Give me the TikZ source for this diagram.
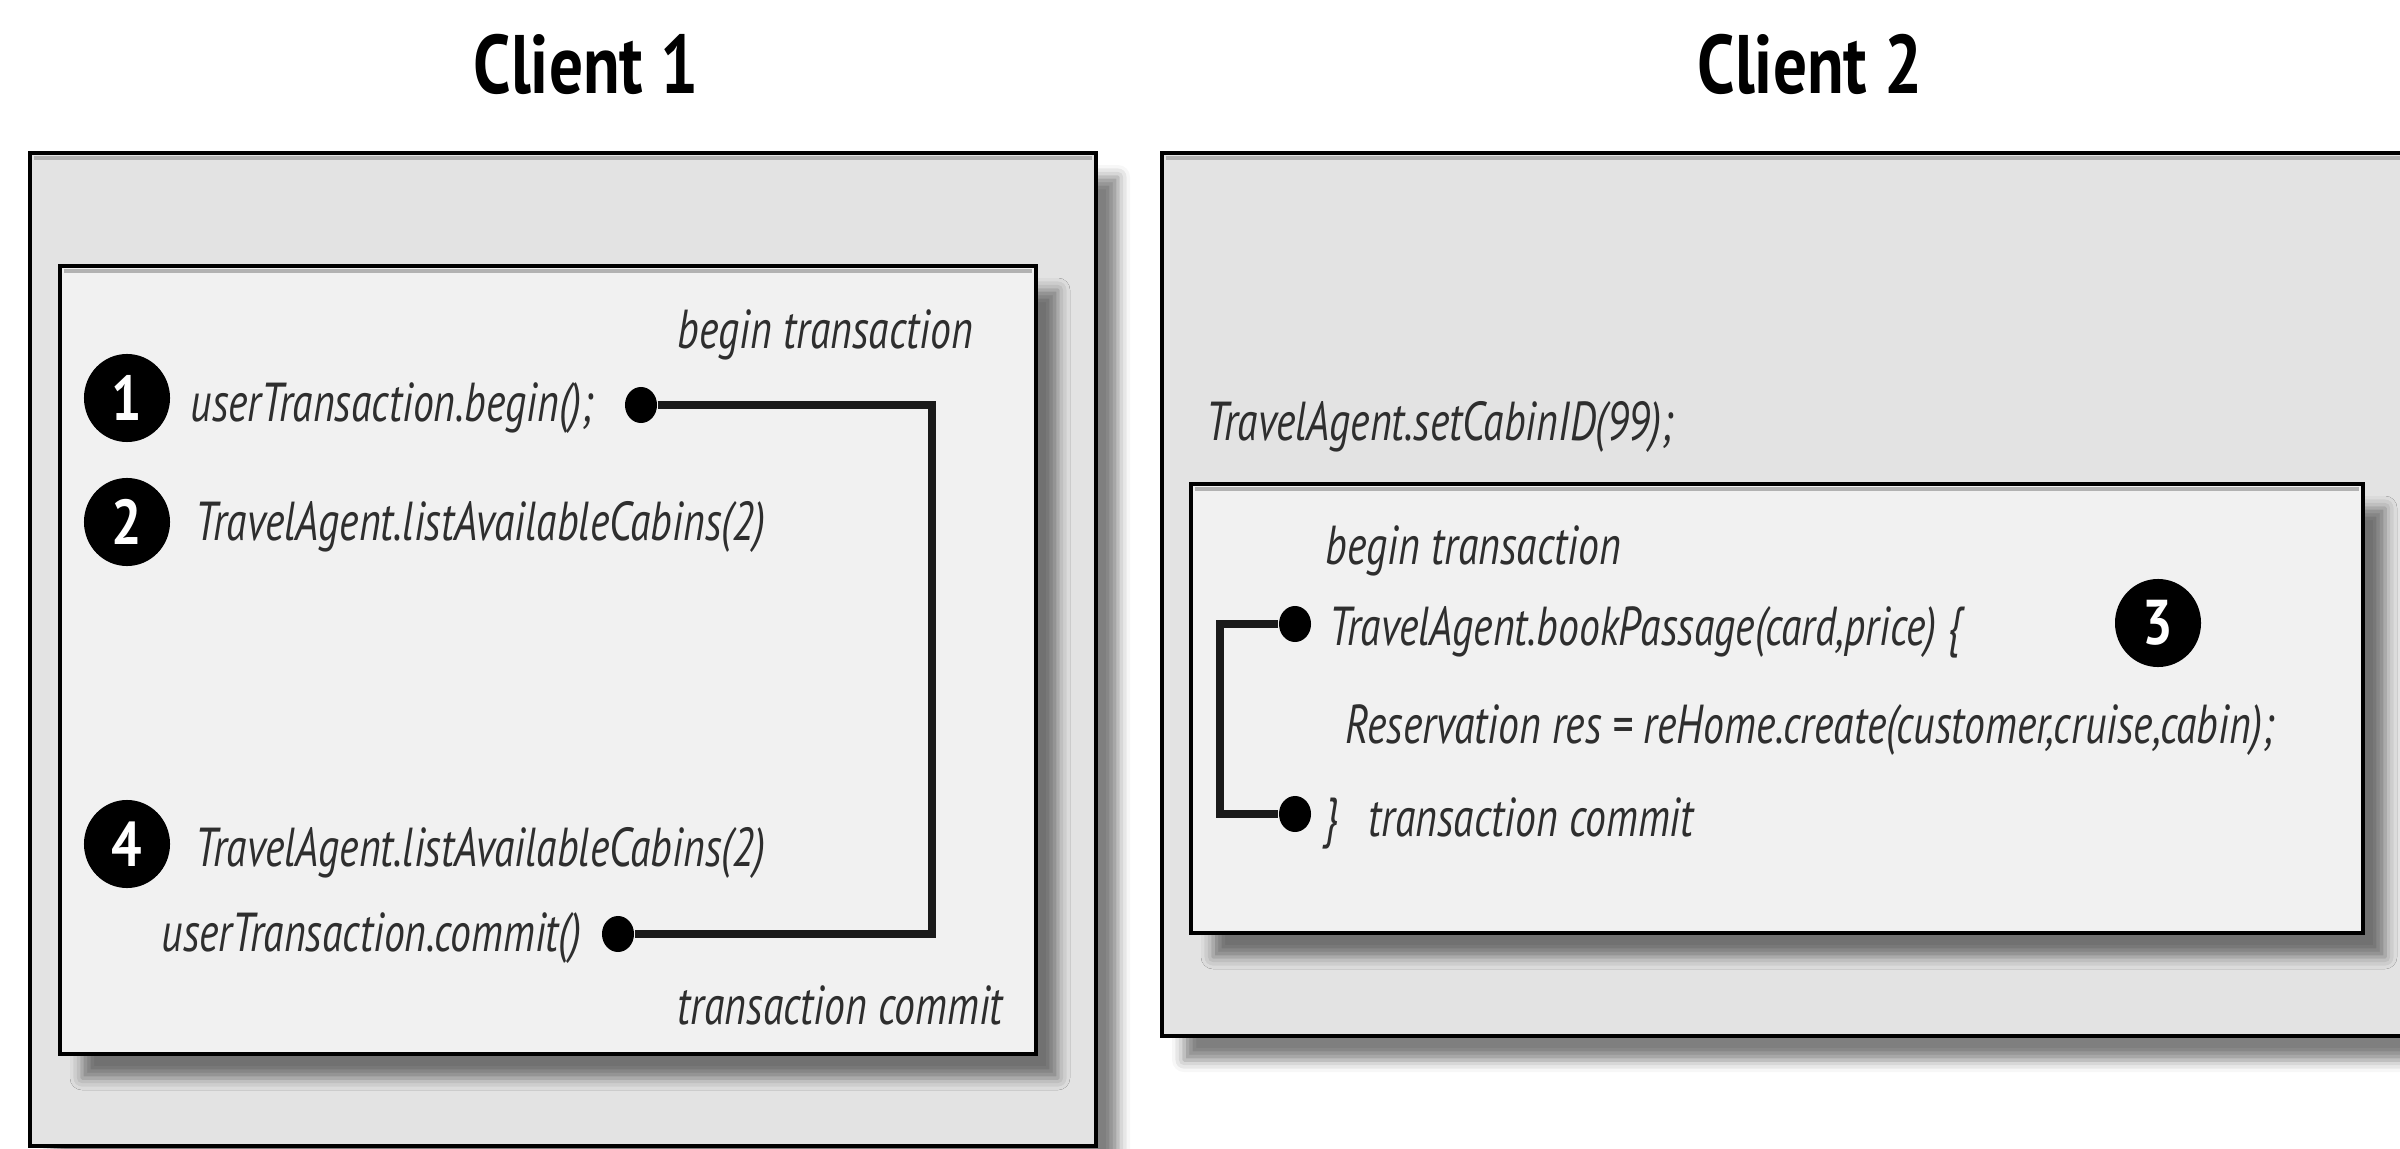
\documentclass[tikz,border=0pt]{standalone}
\usepackage{fontspec}
\usetikzlibrary{shadows.blur,shapes.geometric}
\newfontfamily\bodyfont[FakeStretch=0.76]{PT Sans}
\newfontfamily\titlefont[FakeStretch=0.81]{PT Sans}
\newfontfamily\numfont[FakeStretch=0.85]{PT Sans}
\definecolor{outerfill}{HTML}{E3E3E3}
\definecolor{innerfill}{HTML}{F1F1F1}
\definecolor{linecol}{HTML}{1A1A1A}
\begin{document}
\begin{tikzpicture}[x=0.01cm,y=-0.01cm,
  boxshadow/.style={blur shadow={shadow xshift=0.22cm, shadow yshift=-0.24cm, shadow blur radius=0.12cm, shadow opacity=50}},
  outerbox/.style={boxshadow, fill=outerfill, draw=black, line width=1.4pt},
  innerbox/.style={boxshadow, fill=innerfill, draw=black, line width=1.4pt},
  bevel/.style={draw=black!30, line width=1pt},
  code/.style={font=\bodyfont\itshape\fontsize{15.6}{18}\selectfont, inner sep=0pt, anchor=base west, text=black!82},
  title/.style={font=\titlefont\bfseries\fontsize{23.6}{28}\selectfont, inner sep=0pt, anchor=base},
  numcirc/.style={ellipse, fill=black, text=white, inner sep=0pt, minimum width=0.86cm, minimum height=0.88cm, font=\numfont\bfseries\fontsize{18}{20}\selectfont},
  dotn/.style={ellipse, fill=black, inner sep=0pt, minimum width=0.32cm, minimum height=0.36cm},
  conn/.style={draw=linecol, line width=2.2pt}
]
\useasboundingbox (0,0) rectangle (2400,1149);
\clip (0,0) rectangle (2400,1149);

% titles
\node[title] (t1) at (586,94) {Client 1};
\node[title] (t2) at (1810,94) {Client 2};

% boxes
\path[outerbox] (30,153) rectangle (1096,1146);
\path[bevel] (34,158) -- (1092,158);
\path[innerbox] (60,266) rectangle (1036,1054);
\path[bevel] (64,271) -- (1032,271);

\path[outerbox] (1162,153) rectangle (2430,1036);
\path[bevel] (1166,158) -- (2430,158);
\path[innerbox] (1191,484) rectangle (2363,933);
\path[bevel] (1195,489) -- (2359,489);

% client 1
\node[code] (bt1) at (677,349) {begin transaction};
\node[numcirc] (n1) at (127,398) {1};
\node[code] (ut1) at (190,422) {userTransaction.begin();};
\node[dotn] (d1) at (641,405) {};
\node[numcirc] (n2) at (127,522) {2};
\node[code] (la2) at (195,541) {TravelAgent.listAvailableCabins(2)};
\node[numcirc] (n4) at (127,844) {4};
\node[code] (la4) at (195,866) {TravelAgent.listAvailableCabins(2)};
\node[code] (uc1) at (161,951) {userTransaction.commit()};
\node[dotn] (d4) at (618,934) {};
\node[code] (tc1) at (677,1024) {transaction commit};
\coordinate (k1) at (932,405);
\coordinate (k2) at (932,934);
\draw[conn] (d1) -- (k1) -- (k2) -- (d4);

% client 2
\node[code] (sc) at (1206,440) {TravelAgent.setCabinID(99);};
\node[code] (bt2) at (1325,564) {begin transaction};
\node[dotn] (e1) at (1295,624) {};
\node[code] (bp) at (1329,645) {TravelAgent.bookPassage(card,price) \{};
\node[numcirc] (n3) at (2158,623) {3};
\node[code] (rs) at (1345,743) {Reservation res = reHome.create(customer,cruise,cabin);};
\node[dotn] (e2) at (1295,814) {};
\node[code] (tc2) at (1325,836) {\}\hspace{0.29cm}transaction commit};
\coordinate (k3) at (1220,624);
\coordinate (k4) at (1220,814);
\draw[conn] (e1) -- (k3) -- (k4) -- (e2);
\end{tikzpicture}
\end{document}
